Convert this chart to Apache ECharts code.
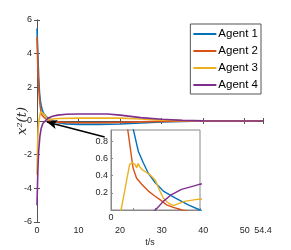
<!DOCTYPE html>
<html><head><meta charset="utf-8">
<script src="https://cdn.jsdelivr.net/npm/echarts@6/dist/echarts.min.js"></script>
<style>html,body{margin:0;padding:0;background:#fff}#c{width:291px;height:250px}</style>
</head><body><div id="c"></div>
<script>
// ---- data ----
const seriesNames = ['Agent 1', 'Agent 2', 'Agent 3', 'Agent 4'];
const colors = ['#0072BD', '#D95319', '#EDB120', '#7E2F8E'];
const xTicks = [0, 10, 20, 30, 40, 50, 54.4];
const yTicks = [-6, -4, -2, 0, 2, 4, 6];
const insetYTicks = [0.2, 0.4, 0.6, 0.8];

const agent1 = [[0,5.5],[0.2,4.0],[0.4,2.6],[0.6,1.7],[0.8,1.2],[1.0,0.94],[1.23,0.68],[1.45,0.55],[1.67,0.43],[1.98,0.32],[2.35,0.22],[2.88,0.14],[3.47,0.06],[4.0,0.0],[5,-0.1],[7,-0.17],[10,-0.2],[15,-0.2],[20,-0.18],[25,-0.12],[30,-0.05],[35,-0.02],[40,0],[54.4,0]];
const agent2 = [[0,5.0],[0.2,3.2],[0.4,2.0],[0.6,1.3],[0.75,0.94],[0.99,0.49],[1.15,0.37],[1.38,0.30],[1.68,0.22],[1.98,0.16],[2.2,0.12],[2.5,0.06],[2.8,0.03],[3.2,0],[4,-0.05],[6,-0.08],[10,-0.1],[15,-0.1],[20,-0.08],[25,-0.05],[30,-0.02],[40,0],[54.4,0]];
const agent3 = [[0,-3.2],[0.1,-2.0],[0.2,-1.0],[0.3,-0.4],[0.45,0],[0.6,0.2],[0.72,0.37],[0.84,0.53],[0.94,0.55],[1.08,0.53],[1.15,0.49],[1.22,0.54],[1.3,0.5],[1.4,0.47],[1.75,0.41],[1.98,0.35],[2.2,0.22],[2.35,0.14],[2.58,0.08],[2.8,0.05],[3.3,0.10],[3.8,0.12],[5,0.15],[10,0.17],[20,0.17],[25,0.12],[30,0.05],[35,0.02],[40,0],[54.4,0]];
const agent4 = [[0,-5],[0.1,-4.0],[0.2,-3.0],[0.4,-1.8],[0.7,-0.9],[1.0,-0.45],[1.4,-0.15],[2.1,0.03],[2.35,0.10],[2.72,0.18],[3.17,0.24],[3.74,0.28],[4,0.30],[5,0.35],[7,0.4],[10,0.42],[17,0.42],[20,0.35],[25,0.2],[30,0.1],[35,0.04],[40,0.01],[54.4,0]];
const allData = [agent1, agent2, agent3, agent4];
const arrowFrom = [16.3, -0.95];
const arrowTo = [2.4, -0.06];

const axisColor = '#555';
const txt = '#262626';
const font = 'Liberation Sans';

const chart = echarts.init(document.getElementById('c'));
const series = [];
allData.forEach((d, i) => {
  series.push({
    name: seriesNames[i], type: 'line', data: d, xAxisIndex: 0, yAxisIndex: 0,
    showSymbol: false, smooth: false, lineStyle: {width: 1.6, color: colors[i]}, itemStyle: {color: colors[i]},
    z: 3, animation: false,
    markLine: i === 0 ? {
      silent: true, symbol: ['none', 'arrow'], symbolSize: [7, 10],
      lineStyle: {color: '#000', width: 1.4, type: 'solid'}, label: {show: false},
      data: [[{coord: arrowFrom}, {coord: arrowTo}]]
    } : undefined
  });
});
allData.forEach((d, i) => {
  series.push({
    name: seriesNames[i] + ' inset', type: 'line', data: d, xAxisIndex: 2, yAxisIndex: 2,
    showSymbol: false, lineStyle: {width: 1.4, color: colors[i]}, itemStyle: {color: colors[i]},
    clip: true, z: 12, animation: false
  });
});

chart.setOption({
  animation: false,
  textStyle: {fontFamily: font},
  legend: {
    data: seriesNames, orient: 'vertical', right: 30, top: 24,
    itemWidth: 23, itemHeight: 2, itemGap: 5,
    icon: 'rect',
    backgroundColor: '#fff', borderColor: '#555', borderWidth: 1, padding: [4, 3, 3, 3],
    textStyle: {fontSize: 11.5, color: '#000', fontFamily: font, padding: [0, 0, 0, -3]}
  },
  grid: [
    {left: 37, right: 28, top: 20, bottom: 28, containLabel: false, outerBoundsMode: 'none'},
    {left: 111, top: 130, width: 89, height: 80, show: true, backgroundColor: '#fff', borderColor: '#888', borderWidth: 1, z: 10, containLabel: false, outerBoundsMode: 'none'}
  ],
  xAxis: [
    {type: 'value', gridIndex: 0, min: 0, max: 54.4, interval: 10,
      name: 't/s', nameLocation: 'middle', nameGap: 16, nameMoveOverlap: false, nameTextStyle: {fontSize: 9, color: txt},
      axisLine: {lineStyle: {color: axisColor}}, axisTick: {inside: true, length: 3, lineStyle: {color: axisColor}},
      axisLabel: {fontSize: 9, color: txt, margin: 4, hideOverlap: false}, splitLine: {show: false}},
    {type: 'value', gridIndex: 0, position: 'top', min: 0, max: 54.4, interval: 10,
      axisLine: {lineStyle: {color: axisColor}}, axisTick: {inside: true, length: 3, lineStyle: {color: axisColor}},
      axisLabel: {show: false}, splitLine: {show: false}},
    {type: 'value', gridIndex: 1, min: 0, max: 4, interval: 1,
      axisLine: {lineStyle: {color: '#888'}}, axisTick: {inside: true, length: 2, lineStyle: {color: '#888'}},
      axisLabel: {fontSize: 9, color: txt, margin: 3, formatter: v => v === 0 ? '0' : ''}, splitLine: {show: false}, z: 11}
  ],
  yAxis: [
    {type: 'value', gridIndex: 0, min: -6, max: 6, interval: 2,
      name: 'x²(t)', nameLocation: 'middle', nameGap: 8, nameRotate: 90, nameMoveOverlap: false,
      nameTextStyle: {fontSize: 13, color: txt, fontFamily: 'DejaVu Serif', fontStyle: 'italic'},
      axisLine: {lineStyle: {color: axisColor}}, axisTick: {inside: true, length: 3, lineStyle: {color: axisColor}},
      axisLabel: {fontSize: 9, color: txt, margin: 5}, splitLine: {show: false}},
    {type: 'value', gridIndex: 0, position: 'right', min: -6, max: 6, interval: 2,
      axisLine: {lineStyle: {color: axisColor}}, axisTick: {inside: true, length: 3, lineStyle: {color: axisColor}},
      axisLabel: {show: false}, splitLine: {show: false}},
    {type: 'value', gridIndex: 1, min: 0, max: 0.93, interval: 0.2,
      axisLine: {lineStyle: {color: '#888'}}, axisTick: {inside: true, length: 2, lineStyle: {color: '#888'}},
      axisLabel: {fontSize: 9, color: txt, margin: 3, showMinLabel: false, showMaxLabel: false,
        formatter: v => insetYTicks.some(t => Math.abs(t - v) < 1e-6) ? v.toFixed(1) : ''},
      splitLine: {show: false}, z: 11}
  ],
  series: series
});
</script></body></html>
